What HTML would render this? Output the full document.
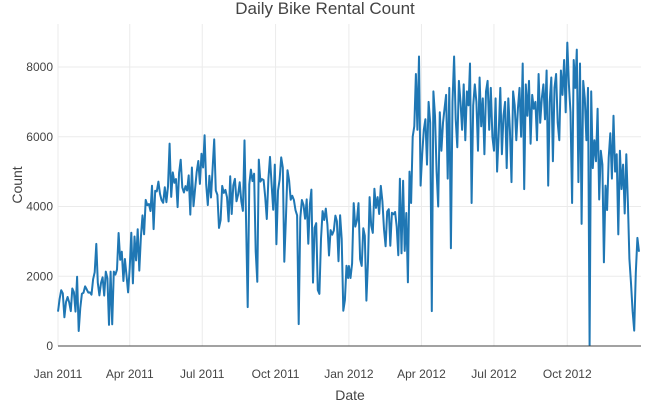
<!DOCTYPE html>
<html><head><meta charset="utf-8"><style>
body{margin:0;background:#fff;font-family:"Liberation Sans",sans-serif}
svg{display:block}
</style></head><body>
<svg id="c" width="651" height="402"></svg>
<script>
const startYear = [2011, 2012];
const cnt2011 = [985,1349,1600,1510,822,1263,1406,1248,1000,1650,1543,986,1985,431,1098,1501,
1526,1708,1623,1530,1538,1472,1913,2115,2927,1812,1450,1807,1969,1446,
2134,1944,605,2133,623,2132,2046,2192,3239,2471,2703,1865,2496,2028,1536,2227,
3249,1795,3141,2455,3348,2162,3126,3744,3204,4189,4036,4073,3872,4595,3351,
4451,4433,4714,4362,4182,4105,4553,4123,4575,5805,4274,4978,4679,4788,3982,
4968,5342,4548,4401,4586,4460,4891,3767,5119,4010,4507,4991,5305,4648,5515,
5119,6043,4629,4040,4881,4258,5084,5923,4458,4332,3387,3606,4590,4390,4475,4266,
3574,4866,3785,4602,4792,4150,4338,4694,4153,3873,5895,3542,1115,4634,5058,
4727,4940,2710,1842,5345,4713,4785,4760,4274,3641,4795,5423,4630,3907,5202,
2918,4456,4765,5409,5117,2416,3644,5041,4748,4195,4308,4187,3894,3747,627,3669,
4186,4046,3649,4205,2933,4067,4486,1817,3392,3520,1607,1495,3068,3867,3613,
3940,3485,2594,3322,3190,3310,3740,3577,2431,3750,3068,1011,1317,2302,1951];
const cnt2012 = [2294,1951,2368,4098,3425,3598,4097,2493,2298,3376,3163,1301,2432,4270,3456,3243,
4509,3959,4270,3786,4590,4150,3351,2859,3853,3922,2877,3820,3777,3843,
3423,2605,4795,2659,4738,2727,3814,1826,5000,4100,6000,6300,7800,6200,8300,4600,
5500,6200,6500,5200,7000,6400,1000,7300,6600,5000,4000,6700,5600,6400,6800,
7200,4800,7400,2800,7000,8300,6500,5700,7600,7000,6200,7500,5900,7300,6900,
8100,4100,6900,7500,7000,5600,7700,6300,7100,5500,7300,7600,6200,7400,6000,
5600,7100,5000,6100,7400,5500,6600,7000,5100,7100,6200,4700,7300,6900,5900,6800,
7400,6000,8100,4500,7500,6600,7600,5800,7200,6800,7000,5900,7800,6400,7100,
7500,6500,7900,4600,7000,7700,5300,7400,7800,6400,5900,7900,7200,8200,6700,
8700,7500,6700,4100,8200,7400,8500,4700,8100,3500,7600,7100,5900,7400,22,7300,
5100,5900,5300,6800,4200,5600,5200,2400,4600,3900,5400,6100,4800,6600,5000,
5500,3200,5600,4500,5200,3800,5500,4100,2500,1800,1000,441,2100,3100,2700];
const yTicks = [0,2000,4000,6000,8000];
const xTickLabels = ["Jan 2011","Apr 2011","Jul 2011","Oct 2011","Jan 2012","Apr 2012","Jul 2012","Oct 2012"];
const xTickDays = [0,90,181,273,365,456,547,639];
const stepDays = 2;

const NS="http://www.w3.org/2000/svg";
const svg=document.getElementById('c');
const X0=58, PXD=0.797, Y0=346, PYU=0.034875;
const xs=d=>X0+d*PXD, ys=v=>Y0-v*PYU;
function mk(t,a){const e=document.createElementNS(NS,t);for(const k in a)e.setAttribute(k,a[k]);svg.appendChild(e);return e;}

xTickDays.forEach((d,i)=>{
  const g=mk('line',{x1:xs(d),x2:xs(d),y1:24,y2:346,stroke:'#ebebeb','stroke-width':1});
  
  
  const t=mk('text',{x:xs(d),y:378,'text-anchor':'middle','font-size':12,fill:'#444'});
  t.textContent=xTickLabels[i];
  
  
});
yTicks.forEach(v=>{
  if(v>0){const g=mk('line',{x1:58,x2:641,y1:ys(v),y2:ys(v),stroke:'#ebebeb','stroke-width':1});
  
  }
  const t=mk('text',{x:53,y:ys(v)+4,'text-anchor':'end','font-size':12,fill:'#444'});
  t.textContent=String(v);
  
  
});
const all=cnt2011.concat(cnt2012);
let d='';
all.forEach((v,i)=>{const day=i<cnt2011.length?i*stepDays:365+(i-cnt2011.length)*stepDays;d+=(i?'L':'M')+xs(day).toFixed(1)+','+ys(v).toFixed(1);});
const p=mk('path',{d:d,fill:'none',stroke:'#1f77b4','stroke-width':2,'stroke-linejoin':'round'});


const z=mk('line',{x1:58,x2:641,y1:346,y2:346,stroke:'#444','stroke-width':1});


const ti=mk('text',{x:325,y:14,'text-anchor':'middle','font-size':17,fill:'#444'});
ti.textContent='Daily Bike Rental Count';


const xl=mk('text',{x:350,y:400,'text-anchor':'middle','font-size':14,fill:'#444'});
xl.textContent='Date';


const yl=mk('text',{x:0,y:0,'text-anchor':'middle','font-size':14,fill:'#444',transform:'translate(22,185) rotate(-90)'});
yl.textContent='Count';


</script>
</body></html>
